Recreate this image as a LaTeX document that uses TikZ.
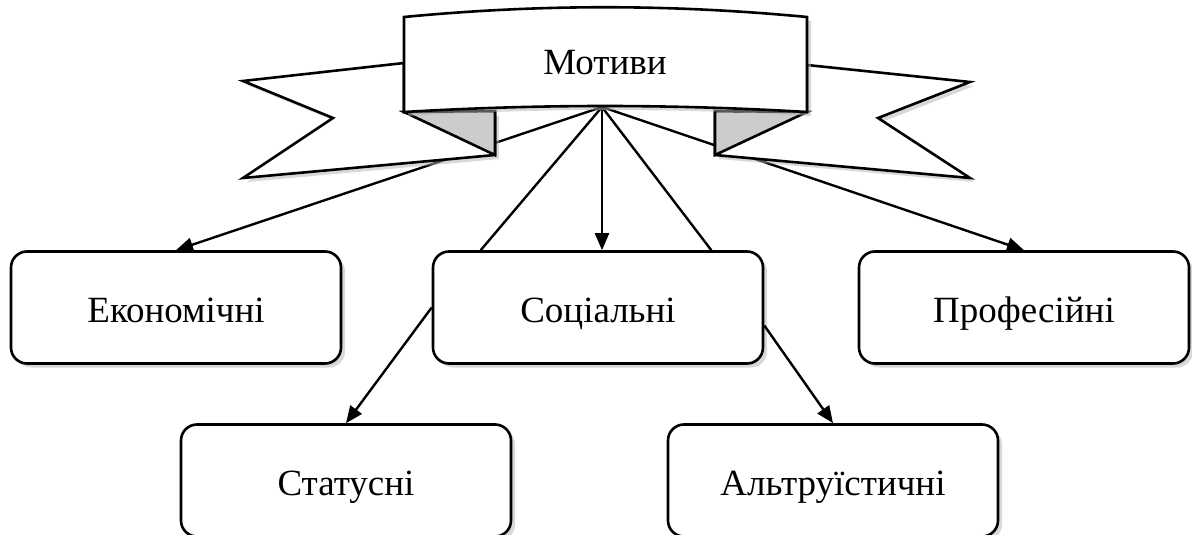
\documentclass[tikz,border=0pt]{standalone}
\usepackage{fontspec}
\setmainfont{Liberation Serif}
\usetikzlibrary{shadows,arrows.meta}

\tikzset{
    motive/.style={draw, fill=white, rounded corners=16pt, minimum width=330pt, minimum height=112pt,
        text height=29pt, text depth=0pt, line width=2.6pt,
        drop shadow={shadow xshift=4pt, shadow yshift=-4pt, fill=black!30, opacity=0.5},
        font=\fontsize{37}{40}\selectfont},
    ribbon/.style={draw, fill=white, line join=miter, line width=2.6pt,
        drop shadow={shadow xshift=4pt, shadow yshift=-4pt, fill=black!30, opacity=0.5}},
    fold/.style={draw, fill=black!20, line join=miter, line width=2.6pt},
    link/.style={-{Triangle[length=17pt,width=14pt]}},
}

\begin{document}
\begin{tikzpicture}[x=1pt, y=-1pt, line width=2.4pt]
            \useasboundingbox (0,0) rectangle (1192,535);

            \node[motive] (econ) at (176,307.5) {Економічні};
            \node[motive] (soc) at (598,307.5) {Соціальні};
            \node[motive] (prof) at (1024,307.5) {Професійні};
            \node[motive] (stat) at (346,480.5) {Статусні};
            \node[motive] (altr) at (833,480.5) {Альтруїстичні};

            \coordinate (hub) at (602,107);

            \draw[link] (hub) -- (econ.north);
            \draw (hub) -- ([xshift=49pt]soc.north west);
            \draw[link] (hub) -- (hub |- soc.north);
            \draw (hub) -- ([xshift=-53pt]soc.north east);
            \draw[link] (hub) -- (prof.north);
            \draw[link] (soc.west) -- (stat.north);
            \draw[link] ([yshift=-18pt]soc.east) -- (altr.north);

            % ribbon ends behind the banner
            \draw[ribbon] (404,63) -- (243,81) -- (333,118) -- (243,178) -- (495,155) -- (495,112) -- (404,112) -- cycle;
            \draw[ribbon] (807,65) -- (970,82) -- (878,118) -- (970,178) -- (715,155) -- (715,112) -- (807,112) -- cycle;
            \draw[fold] (404,112) -- (495,111) -- (495,155) -- cycle;
            \draw[fold] (807,112) -- (715,111) -- (715,155) -- cycle;

            \draw[ribbon] (404,17) .. controls (540,4) and (670,4) .. (807,17) -- (807,112)
                .. controls (670,104) and (540,104) .. (404,112) -- cycle;
            \node[font=\fontsize{37}{40}\selectfont, text height=25pt, text depth=0pt] (title) at (605,62) {Мотиви};

        \end{tikzpicture}
\end{document}
